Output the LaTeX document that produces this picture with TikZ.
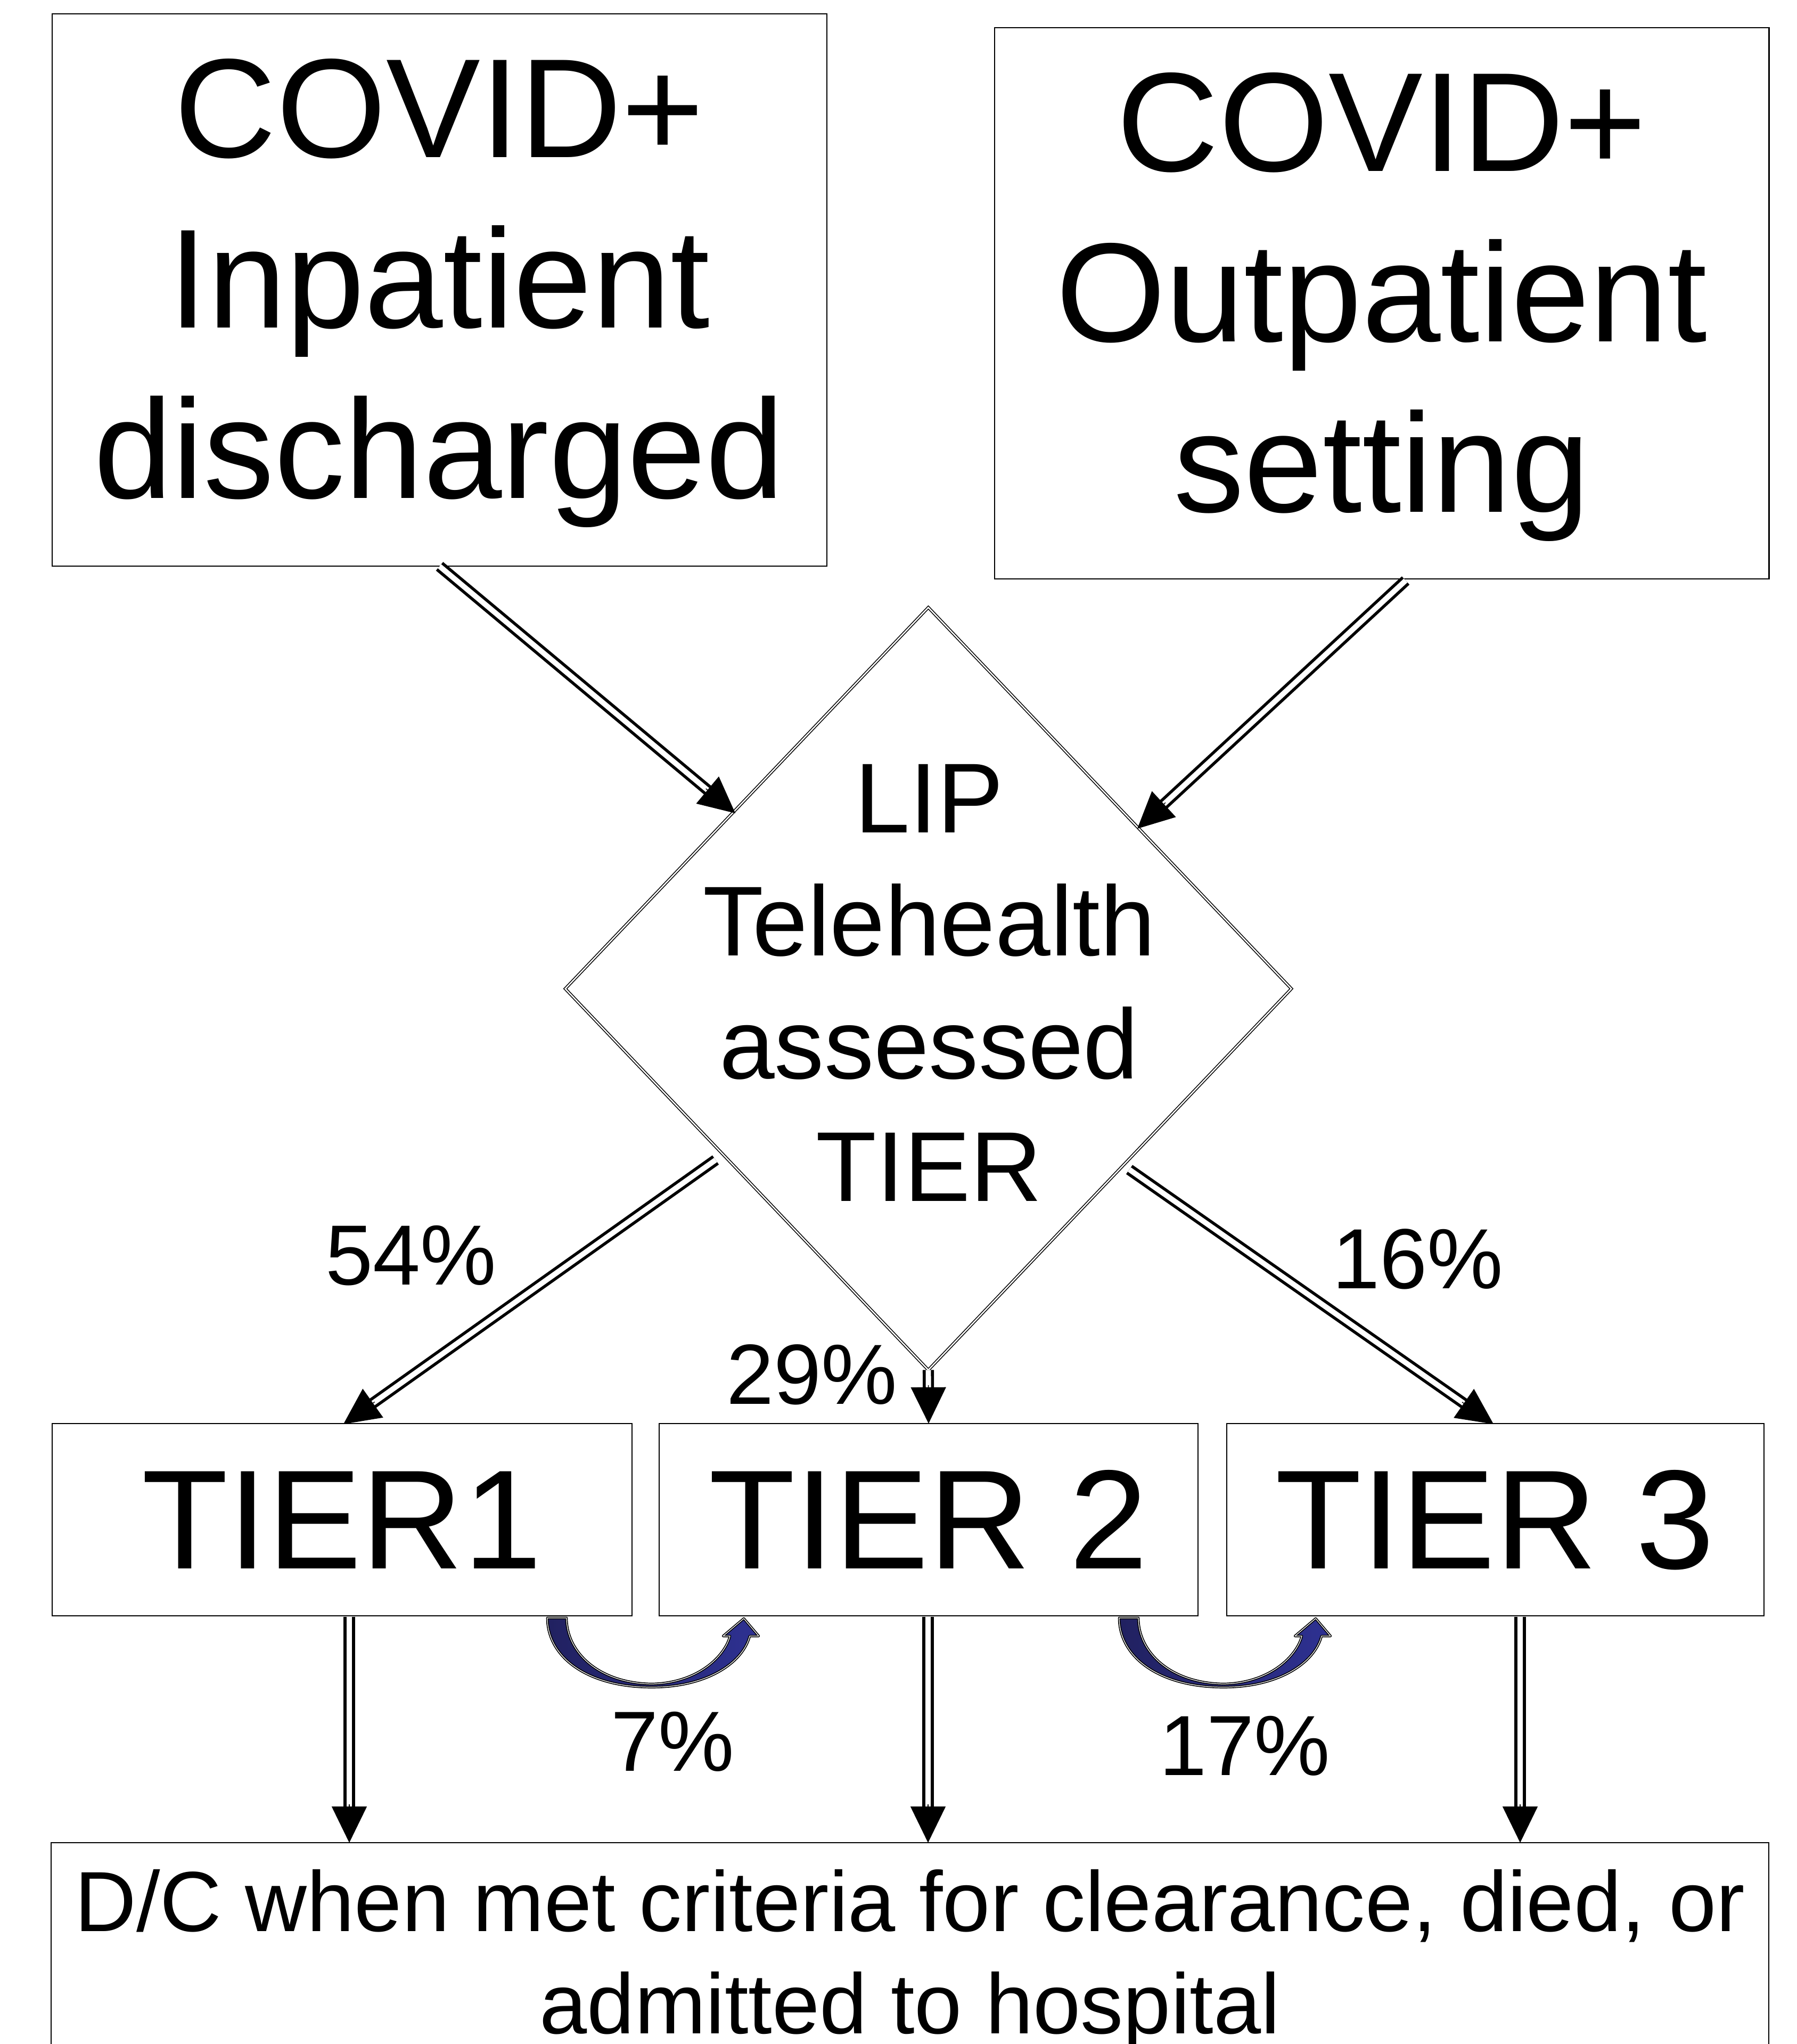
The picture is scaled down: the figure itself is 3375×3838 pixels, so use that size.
\documentclass[tikz,border=0pt]{standalone}
\usepackage{fontspec}
\setmainfont{Liberation Sans}
\usetikzlibrary{arrows.meta,shapes.geometric,calc}
\definecolor{navyL}{RGB}{46,49,146}
\definecolor{navyD}{RGB}{33,33,96}
\tikzset{
  boxnode/.style={draw=black, line width=0.6pt, rectangle, inner sep=0pt, outer sep=0pt},
  bigtxt/.style={font=\fontsize{75.4pt}{90pt}\selectfont, anchor=base, inner sep=0pt},
  diatxt/.style={font=\fontsize{53pt}{64pt}\selectfont, anchor=base, inner sep=0pt},
  pcttxt/.style={font=\fontsize{45.6pt}{55pt}\selectfont, anchor=base, inner sep=0pt},
  shaft/.style={draw=black, double=white, line width=1.6pt, double distance=2.8pt},
  headtip/.style={-{Triangle[length=0.68cm,width=0.66cm]}, line width=0.4pt},
  uarrow/.pic={
    \path[draw=black, line width=1.3pt, left color=navyD, right color=navyL, line join=round]
      (0,0) -- (36,0) .. controls (36,62) and (93,122) .. (196,124)
      .. controls (283,122) and (333,72) .. (343,34) -- (330,34) -- (369,1) -- (397,34) -- (380,34)
      .. controls (368,82) and (303,130) .. (196,130)
      .. controls (73,130) and (0,72) .. (0,0) -- cycle;
    \path[draw=white, line width=0.35pt, line join=round]
      (0,0) -- (36,0) .. controls (36,62) and (93,122) .. (196,124)
      .. controls (283,122) and (333,72) .. (343,34) -- (330,34) -- (369,1) -- (397,34) -- (380,34)
      .. controls (368,82) and (303,130) .. (196,130)
      .. controls (73,130) and (0,72) .. (0,0) -- cycle;
  }
}
\newcommand\mydblarrow[2]{%
  \draw[shaft] (#1) -- ($(#2)!0.55cm!(#1)$);
  \draw[headtip] ($(#2)!0.72cm!(#1)$) -- (#2);}
\begin{document}
\begin{tikzpicture}[x=0.01cm, y=-0.01cm]
\useasboundingbox (0,0) rectangle (3375,3838);
\fill[white] (0,0) rectangle (3375,3838);
\clip (0,0) rectangle (3375,3838);

% boxes
\node[boxnode, minimum width=14.55cm, minimum height=10.37cm] (inp) at (825.5,544.5) {};
\node[boxnode, minimum width=14.54cm, minimum height=10.35cm] (outp) at (2595,569.5) {};
\node[diamond, draw=black, double=white, line width=0.45pt, double distance=0.7pt,
      minimum width=13.63cm, minimum height=14.31cm, inner sep=0pt, outer sep=0pt] (dia) at (1743.5,1856.5) {};
\node[boxnode, minimum width=10.89cm, minimum height=3.61cm] (t1) at (642.5,2853.5) {};
\node[boxnode, minimum width=10.12cm, minimum height=3.61cm] (t2) at (1744,2853.5) {};
\node[boxnode, minimum width=10.09cm, minimum height=3.61cm] (t3) at (2808.5,2853.5) {};
\node[boxnode, minimum width=32.24cm, minimum height=4.8cm] (bot) at (1709,3700) {};

% texts
\node[bigtxt] (inpA) at (825,295) {COVID+};
\node[bigtxt] (inpB) at (825,615) {Inpatient};
\node[bigtxt] (inpC) at (825,935) {discharged};
\node[bigtxt] (outA) at (2595,321) {COVID+};
\node[bigtxt] (outB) at (2595,641) {Outpatient};
\node[bigtxt] (outC) at (2595,961) {setting};
\node[diatxt] (diaA) at (1745,1563) {LIP};
\node[diatxt] (diaB) at (1745,1794) {Telehealth};
\node[diatxt] (diaC) at (1745,2025) {assessed};
\node[diatxt] (diaD) at (1745,2255) {TIER};
\node[bigtxt] (t1txt) at (642,2945) {TIER1};
\node[bigtxt] (t2txt) at (1744,2945) {TIER 2};
\node[bigtxt] (t3txt) at (2808,2945) {TIER 3};
\node[pcttxt] (p54) at (772,2412) {54\%};
\node[pcttxt] (p16) at (2663,2419) {16\%};
\node[pcttxt] (p29) at (1525,2636) {29\%};
\node[pcttxt] (p7) at (1263,3325) {7\%};
\node[pcttxt] (p17) at (2338,3333) {17\%};
\node[pcttxt] (botA) at (1709,3626) {D/C when met criteria for clearance, died, or};
\node[pcttxt] (botB) at (1709,3818) {admitted to hospital};

% connector end points
\coordinate (a1t) at (1381,1527);
\coordinate (a2s) at (2640,1090);
\coordinate (a2t) at (2136,1556);
\coordinate (a3s) at (1344,2178);
\coordinate (a3t) at (645,2674);
\coordinate (a4s) at (2121,2196);
\coordinate (a4t) at (2805,2674);
\coordinate (b1s) at (656,3036);
\coordinate (b1t) at (656,3460);
\coordinate (b2s) at (1743,3036);
\coordinate (b2t) at (1743,3460);
\coordinate (b3s) at (2855,3036);
\coordinate (b3t) at (2855,3460);

\mydblarrow{inp.south}{a1t}
\mydblarrow{a2s}{a2t}
\mydblarrow{a3s}{a3t}
\mydblarrow{a4s}{a4t}
\mydblarrow{dia.south}{t2.north}
\mydblarrow{b1s}{b1t}
\mydblarrow{b2s}{b2t}
\mydblarrow{b3s}{b3t}

% curved transfer arrows
\pic at (1028,3038) {uarrow};
\pic at (2102,3038) {uarrow};
\end{tikzpicture}
\end{document}
